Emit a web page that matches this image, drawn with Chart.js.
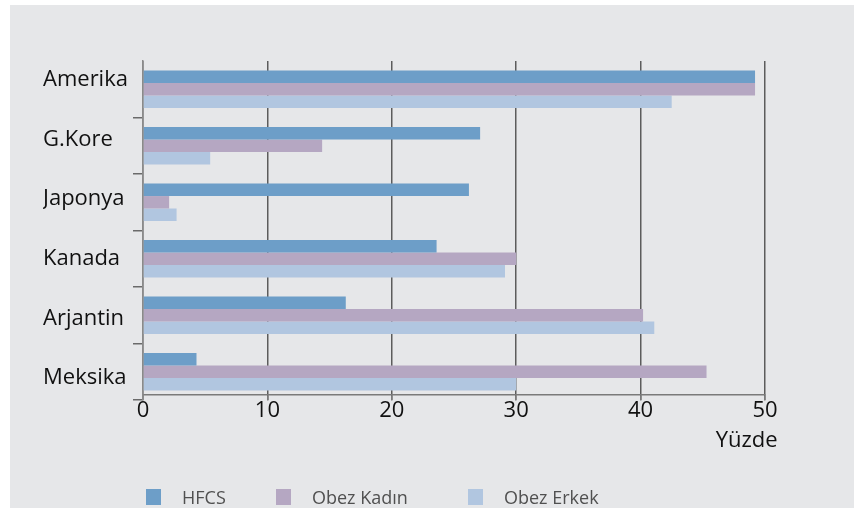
<!DOCTYPE html>
<html lang="tr">
<head>
<meta charset="utf-8">
<script src="https://cdn.jsdelivr.net/npm/chart.js@4/dist/chart.umd.min.js"></script>
<style>
  html, body { margin: 0; padding: 0; background: #ffffff; }
  #panel {
    position: absolute; left: 10px; top: 5px; width: 844px; height: 503px;
    background: #e6e7e9;
  }
  #wrap { position: absolute; left: 0; top: 0; width: 861px; height: 508px; }
  #legend {
    position: absolute; left: 146px; top: 488px; height: 18px;
    display: flex; align-items: center;
    font-family: "Open Sans", sans-serif; font-size: 18px; color: #505050;
  }
  .item { display: flex; align-items: center; }
  .swatch { width: 15px; height: 16px; margin-right: 21px; }
</style>
</head>
<body>
<div id="panel"></div>
<div id="wrap"><canvas id="c" width="861" height="508"></canvas></div>
<div id="legend"></div>
<script>
// Ülkeler ve yüzde değerleri
const ulkeler = ["Amerika", "G.Kore", "Japonya", "Kanada", "Arjantin", "Meksika"];
const hfcs       = [49.2, 27.1, 26.2, 23.6, 16.3, 4.3];
const obezKadin  = [49.2, 14.4, 2.1, 30.0, 40.2, 45.3];
const obezErkek  = [42.5, 5.4, 2.7, 29.1, 41.1, 30.0];
const xTicks     = [0, 10, 20, 30, 40, 50];
const eksenBasligi = "Yüzde";

const seriAdlari = ["HFCS", "Obez Kadın", "Obez Erkek"];
const renkler    = ["#6d9ec8", "#b5a7c2", "#b1c6e0"];
const legendWidths = [130, 192, 200];

// yatay eksen, son kategorinin biraz altından geçer (kategori ekseni değeri)
const xEksenKonumu = 5.41;

const FONT = "'Open Sans', sans-serif";

const datasets = [hfcs, obezKadin, obezErkek].map((d, i) => ({
  label: seriAdlari[i],
  data: d,
  backgroundColor: renkler[i],
  borderWidth: 0,
  categoryPercentage: 0.66,
  barPercentage: 1.0,
  yAxisID: "y"
}));

// Alt kısımdaki açıklama kutusu, veri setlerinden üretilir
const htmlLegend = {
  id: "htmlLegend",
  afterUpdate(chart) {
    const box = document.getElementById("legend");
    box.innerHTML = "";
    chart.data.datasets.forEach((ds, i) => {
      const it = document.createElement("div");
      it.className = "item";
      it.style.width = legendWidths[i] + "px";
      const sw = document.createElement("span");
      sw.className = "swatch";
      sw.style.background = ds.backgroundColor;
      const tx = document.createElement("span");
      tx.textContent = ds.label;
      it.appendChild(sw);
      it.appendChild(tx);
      box.appendChild(it);
    });
  }
};

// X ekseni başlığı: son etiketin sağ kenarına hizalı
const xTitle = {
  id: "xTitle",
  afterDraw(chart) {
    const sc = chart.scales.x;
    const ctx = chart.ctx;
    const last = xTicks[xTicks.length - 1];
    const axisY = chart.scales.y.getPixelForValue(xEksenKonumu);
    ctx.save();
    ctx.font = "22px " + FONT;
    const halfLabel = ctx.measureText(String(last)).width / 2;
    ctx.fillStyle = "#111111";
    ctx.textAlign = "right";
    ctx.textBaseline = "alphabetic";
    ctx.fillText(eksenBasligi, sc.getPixelForValue(last) + halfLabel, axisY + 52);
    ctx.restore();
  }
};

new Chart(document.getElementById("c"), {
  type: "bar",
  data: { labels: ulkeler, datasets },
  plugins: [htmlLegend, xTitle],
  options: {
    indexAxis: "y",
    responsive: false,
    animation: false,
    layout: { padding: { top: 61, right: 96, bottom: 108, left: 43 } },
    plugins: { legend: { display: false }, tooltip: { enabled: false } },
    scales: {
      x: {
        position: { y: xEksenKonumu },
        min: 0, max: 50,
        afterBuildTicks(scale) { scale.ticks = xTicks.map(v => ({ value: v })); },
        grid: {
          color: "#5c5c5c", lineWidth: 1.5, tickLength: 5,
          drawTicks: true, tickColor: "#7a7a7a"
        },
        border: { display: true, color: "#7a7a7a", width: 1.5 },
        ticks: { color: "#111111", font: { family: FONT, size: 22 }, padding: -2 }
      },
      // kategori ekseni: yalnızca gruplar arası kısa çizgiler
      y: {
        weight: 0,
        afterFit(scale) { scale.width = 14; },
        grid: {
          drawOnChartArea: false, tickLength: 10, lineWidth: 1.5,
          tickColor: (c) => (c.index === 0 || c.index >= ulkeler.length ? "rgba(0,0,0,0)" : "#6a6a6a")
        },
        border: { display: true, color: "#8a8a8a", width: 1.5 },
        ticks: { callback: () => "" }
      },
      // ülke adları
      yAd: {
        type: "linear",
        position: "left",
        weight: 1,
        reverse: true,
        offset: false,
        min: -0.32, max: 5.37,
        afterBuildTicks(scale) { scale.ticks = ulkeler.map((_, i) => ({ value: i })); },
        afterFit(scale) { scale.width = 86; },
        grid: { display: false, offset: false },
        border: { display: false },
        ticks: {
          color: "#111111", font: { family: FONT, size: 22 },
          crossAlign: "far",
          callback: (v) => ulkeler[v]
        }
      }
    }
  }
});
</script>
</body>
</html>
